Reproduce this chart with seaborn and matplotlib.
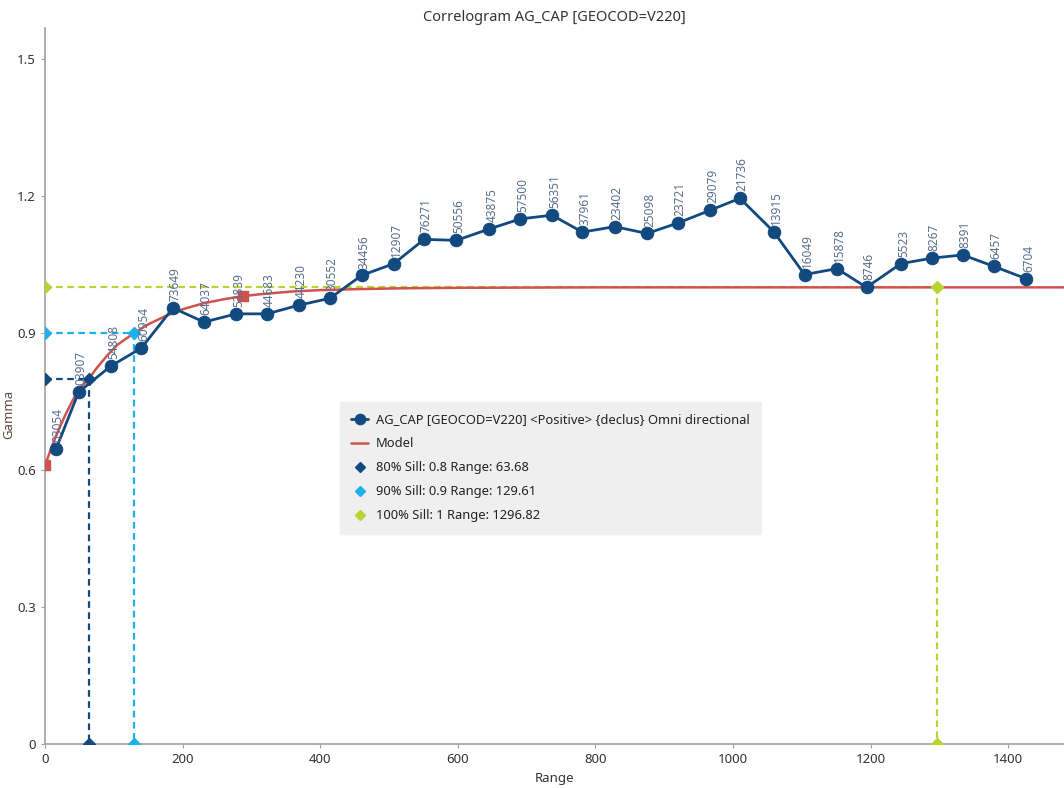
import matplotlib
matplotlib.use("Agg")
import matplotlib.pyplot as plt
import seaborn as sns
import pandas as pd

# ---- data ----
lag = [16, 49, 96, 140, 186, 231, 278, 323, 369, 414, 460, 507, 551, 598, 646, 691,
       737, 781, 828, 875, 920, 967, 1010, 1059, 1104, 1151, 1194, 1244, 1289, 1334, 1379, 1426]
gamma = [0.646, 0.771, 0.828, 0.867, 0.955, 0.924, 0.942, 0.942, 0.961, 0.976, 1.026, 1.052,
         1.105, 1.103, 1.128, 1.150, 1.158, 1.121, 1.133, 1.118, 1.141, 1.169, 1.195, 1.122,
         1.028, 1.041, 1.000, 1.052, 1.064, 1.071, 1.046, 1.019]
pairs = ["03054", "03907", "54808", "60954", "73649", "64037", "53839", "44683", "44230",
         "30552", "34456", "12907", "76271", "50556", "43875", "57500", "56351", "37961",
         "23402", "25098", "23721", "29079", "21736", "13915", "16049", "15878", "8746",
         "5523", "8267", "8391", "6457", "6704"]

model_x = [0, 10, 20, 30, 40, 50, 63.68, 75, 90, 105, 129.61, 150, 175, 200, 230, 260, 288,
           320, 360, 400, 450, 520, 600, 800, 1100, 1480]
model_y = [0.61, 0.652, 0.689, 0.722, 0.752, 0.778, 0.80, 0.823, 0.850, 0.874, 0.90, 0.919,
           0.937, 0.952, 0.965, 0.974, 0.981, 0.986, 0.991, 0.994, 0.996, 0.998, 0.999, 1.0, 1.0, 1.0]
model_marker_x = [0, 288]
model_marker_y = [0.61, 0.981]

sill_labels = ["80% Sill: 0.8 Range: 63.68", "90% Sill: 0.9 Range: 129.61", "100% Sill: 1 Range: 1296.82"]
sill_levels = [0.8, 0.9, 1.0]
sill_ranges = [63.68, 129.61, 1296.82]

y_ticks = [0, 0.3, 0.6, 0.9, 1.2, 1.5]
y_tick_labels = ["0", "0.3", "0.6", "0.9", "1.2", "1.5"]
x_ticks = [0, 200, 400, 600, 800, 1000, 1200, 1400]

series_name = "AG_CAP [GEOCOD=V220] <Positive> {declus} Omni directional"

# ---- style ----
sns.set_theme(style="white")
plt.rcParams["font.family"] = ["Noto Sans", "DejaVu Sans"]

navy = "#124a80"
red = "#d0524c"
cyan = "#1eb0ea"
lime = "#b8d432"
sill_colors = [navy, cyan, lime]
grid_gray = "#a0a0a0"

fig = plt.figure(figsize=(10.64, 7.88), dpi=100)
ax = fig.add_axes([0.0423, 0.0558, 0.9577, 0.9087])

df = pd.DataFrame({"Range": lag, "Gamma": gamma})
mdf = pd.DataFrame({"Range": model_x, "Gamma": model_y})

# sill guide lines
for lvl, rng, col, lab in zip(sill_levels, sill_ranges, sill_colors, sill_labels):
    ax.plot([0, rng], [lvl, lvl], ls=(0, (3, 2)), color=col, lw=1.6, zorder=2)
    ax.plot([rng, rng], [lvl, 0], ls=(0, (3, 2)), color=col, lw=1.6, zorder=2)
    ax.plot([0, rng, rng], [lvl, lvl, 0], ls="none", marker="D", ms=6,
            color=col, zorder=5, clip_on=True, label=lab)

# model
sns.lineplot(data=mdf, x="Range", y="Gamma", ax=ax, color=red, lw=1.8, zorder=3,
             label="Model", sort=False)
ax.plot(model_marker_x, model_marker_y, ls="none", marker="s", ms=7, color=red, zorder=4)

# experimental correlogram
sns.lineplot(data=df, x="Range", y="Gamma", ax=ax, color=navy, lw=2.0, marker="o",
             markersize=9, markeredgecolor=navy, zorder=6, label=series_name, sort=False)

for xv, yv, t in zip(lag, gamma, pairs):
    ax.annotate(t, (xv, yv), xytext=(-3, 5), textcoords="offset points",
                rotation=90, ha="left", va="bottom", fontsize=8.5, color="#5b6f8c", zorder=7)

ax.set_xlim(0, 1481)
ax.set_ylim(0, 1.568)
ax.set_xticks(x_ticks)
ax.set_yticks(y_ticks)
ax.set_yticklabels(y_tick_labels)
ax.tick_params(axis="both", which="major", length=3, width=0.8, color=grid_gray,
               labelsize=9.5, labelcolor="#333333", direction="out", bottom=True, left=True)
for s in ["top", "right"]:
    ax.spines[s].set_visible(False)
for s in ["left", "bottom"]:
    ax.spines[s].set_color(grid_gray)
    ax.spines[s].set_linewidth(1.2)

ax.set_xlabel("Range", fontsize=9.5, color="#333333", labelpad=4)
ax.set_ylabel("Gamma", fontsize=9.5, color="#5a4a44")
ax.yaxis.set_label_coords(-0.029, 0.46)
ax.set_title("Correlogram AG_CAP [GEOCOD=V220]", fontsize=10.5, color="#333333", pad=5)

# legend
lh, ll = ax.get_legend_handles_labels()
order = [series_name, "Model"] + sill_labels
hmap = dict(zip(ll, lh))
leg = ax.legend([hmap[k] for k in order], order, loc="upper left",
                bbox_to_anchor=(0.283, 0.487), frameon=True, fontsize=9.3,
                facecolor="#efefef", edgecolor="#efefef", framealpha=1,
                borderpad=0.9, labelspacing=0.85, handlelength=1.3, handletextpad=0.6,
                fancybox=False, markerscale=0.85)
for txt in leg.get_texts():
    txt.set_color("#222222")

fig.savefig("out.png", dpi=100)
